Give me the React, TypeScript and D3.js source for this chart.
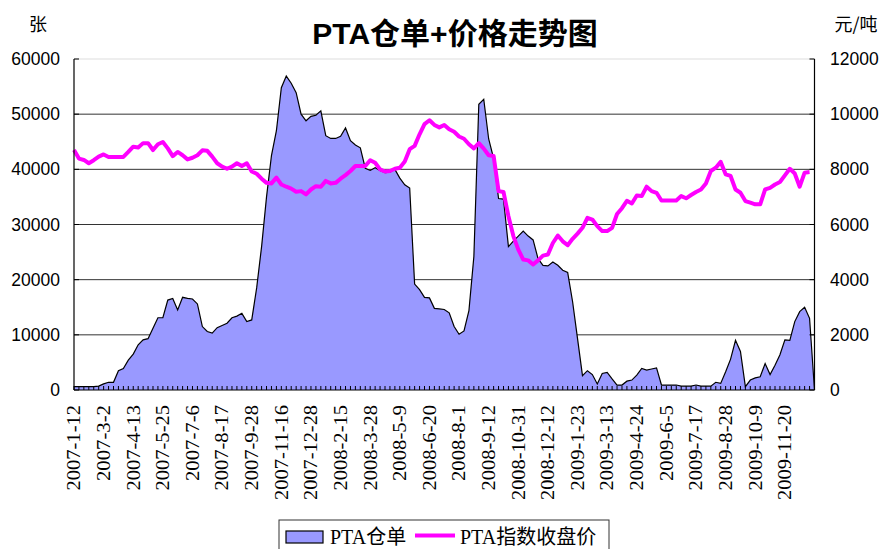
import React from "react";
import * as d3 from "d3";

// PTA 仓单 (张), weekly, left axis
const warrants: number[] = [
  600, 600, 600, 600, 600, 700, 1100, 1400, 1400, 3500,
  3900, 5400, 6500, 8200, 9100, 9300, 11200, 13100, 13100, 16300,
  16600, 14500, 16800, 16600, 16500, 15600, 11500, 10600, 10300, 11300,
  11700, 12100, 13100, 13400, 13900, 12400, 12700, 18500, 26000, 35000,
  42500, 47000, 54800, 56900, 55600, 53900, 50000, 48800, 49600, 49800,
  50600, 46100, 45600, 45600, 46000, 47500, 45200, 44400, 43900, 40200,
  39800, 40300, 39800, 39400, 39500, 40000, 38400, 37200, 36600, 19200,
  18200, 16800, 16700, 14800, 14700, 14600, 14000, 11500, 10100, 10700,
  14400, 24200, 51800, 52700, 45500, 42000, 34700, 34600, 26000, 27000,
  27900, 28800, 27900, 27200, 23800, 22600, 22500, 23200, 22600, 21700,
  21300, 16000, 9300, 2600, 3500, 2800, 1100, 3000, 3200, 2000,
  900, 900, 1600, 1800, 2700, 3900, 3600, 3800, 4000, 900,
  900, 900, 900, 700, 700, 700, 900, 700, 700, 700,
  1400, 1200, 3300, 5600, 9000, 7000, 600, 1800, 2200, 2400,
  4800, 2800, 4500, 6400, 9100, 9000, 12400, 14200, 15000, 13000,
  0,
];

// PTA 指数收盘价 (元/吨), right axis
const price: number[] = [
  8700, 8390, 8340, 8220, 8330, 8460, 8540, 8450, 8450, 8450,
  8450, 8630, 8820, 8790, 8950, 8950, 8700, 8910, 8990, 8760,
  8480, 8630, 8510, 8360, 8420, 8510, 8690, 8670, 8460, 8220,
  8100, 8020, 8100, 8220, 8120, 8220, 7920, 7840, 7660, 7510,
  7490, 7700, 7450, 7370, 7300, 7190, 7210, 7090, 7270, 7390,
  7370, 7580, 7490, 7510, 7660, 7790, 7940, 8120, 8120, 8120,
  8330, 8240, 8000, 7920, 7940, 8020, 8060, 8280, 8730, 8850,
  9270, 9640, 9780, 9610, 9520, 9610, 9450, 9360, 9190, 9110,
  8910, 8760, 8950, 8750, 8510, 8480, 7210, 7180, 6300, 5580,
  5090, 4730, 4700, 4550, 4700, 4870, 4910, 5330, 5600, 5390,
  5250, 5480, 5670, 5880, 6240, 6180, 5940, 5760, 5760, 5880,
  6380, 6590, 6860, 6760, 7050, 7030, 7370, 7210, 7150, 6870,
  6870, 6870, 6870, 7030, 6950, 7070, 7180, 7270, 7490, 7940,
  8060, 8270, 7820, 7760, 7270, 7150, 6850, 6790, 6730, 6730,
  7270, 7330, 7450, 7540, 7780, 8020, 7850, 7370, 7880, 7900,
];

// category labels shown every 6 weeks
const dateLabels: string[] = [
  "2007-1-12", "2007-3-2", "2007-4-13", "2007-5-25", "2007-7-6",
  "2007-8-17", "2007-9-28", "2007-11-16", "2007-12-28", "2008-2-15",
  "2008-3-28", "2008-5-9", "2008-6-20", "2008-8-1", "2008-9-12",
  "2008-10-31", "2008-12-12", "2009-1-23", "2009-3-13", "2009-4-24",
  "2009-6-5", "2009-7-17", "2009-8-28", "2009-10-9", "2009-11-20",
];
const labelStep = 6;

const leftTicks: number[] = [0, 10000, 20000, 30000, 40000, 50000, 60000];
const rightTicks: number[] = [0, 2000, 4000, 6000, 8000, 10000, 12000];

const W = 882;
const H = 549;
const X0 = 74;
const X1 = 814.5;
const YT = 59;
const YB = 390;

export default function App() {
  const n = warrants.length;
  const x = d3.scaleLinear().domain([0, n - 1]).range([X0, X1]);
  const yL = d3.scaleLinear().domain([0, 60000]).range([YB, YT]);
  const yR = d3.scaleLinear().domain([0, 12000]).range([YB, YT]);

  const areaGen = d3
    .area<number>()
    .x((_, i) => x(i))
    .y0(yL(0))
    .y1((d) => yL(d));
  const lineTop = d3
    .line<number>()
    .x((_, i) => x(i))
    .y((d) => yL(d));
  const priceLine = d3
    .line<number>()
    .x((_, i) => x(i))
    .y((d) => yR(d));

  const sans = "'Liberation Sans', Arial, 'Noto Sans CJK SC', sans-serif";
  const serif = "'Liberation Serif', 'Noto Sans CJK SC', serif";
  const cjk = "'Noto Sans CJK SC', sans-serif";

  return (
    <div style={{ position: "absolute", left: 0, top: 0 }}>
      <svg width={W} height={H} style={{ display: "block", background: "#fff" }}>
        <rect x={0} y={0} width={W} height={H} fill="#fff" />
        {/* title */}
        <text
          x={455}
          y={44}
          textAnchor="middle"
          fontFamily={sans}
          fontWeight="bold"
          fontSize={30}
          fill="#000"
        >
          PTA仓单+价格走势图
        </text>
        <text x={38} y={31} textAnchor="middle" fontFamily={cjk} fontSize={18} fill="#000">
          张
        </text>
        <text x={856} y={31} textAnchor="middle" fontFamily={cjk} fontSize={18} fill="#000">
          元/吨
        </text>

        {/* gridlines */}
        {leftTicks.map((t) => (
          <line
            key={"g" + t}
            x1={X0}
            x2={X1}
            y1={yL(t)}
            y2={yL(t)}
            stroke={t === 60000 ? "#dddddd" : t === 0 ? "none" : "#333"}
            strokeWidth={1}
          />
        ))}

        {/* area */}
        <path d={areaGen(warrants) || ""} fill="#9999ff" stroke="none" />
        <path d={lineTop(warrants) || ""} fill="none" stroke="#000" strokeWidth={1.2} />

        {/* category ticks */}
        {warrants.map((_, i) => (
          <line
            key={"xt" + i}
            x1={x(i)}
            x2={x(i)}
            y1={YB - 4}
            y2={YB}
            stroke="#000"
            strokeWidth={1}
          />
        ))}

        {/* price line */}
        <path
          d={priceLine(price) || ""}
          fill="none"
          stroke="#ff00ff"
          strokeWidth={4}
          strokeLinejoin="round"
        />

        {/* axes */}
        <line x1={X0} x2={X0} y1={YT} y2={YB} stroke="#000" strokeWidth={1.2} />
        <line x1={X1} x2={X1} y1={YT} y2={YB} stroke="#000" strokeWidth={1.2} />
        <line x1={X0} x2={X1} y1={YB} y2={YB} stroke="#000" strokeWidth={1.2} />
        {leftTicks.map((t) => (
          <line key={"lt" + t} x1={X0} x2={X0 + 5} y1={yL(t)} y2={yL(t)} stroke="#000" />
        ))}
        {rightTicks.map((t) => (
          <line key={"rt" + t} x1={X1 - 5} x2={X1} y1={yR(t)} y2={yR(t)} stroke="#000" />
        ))}

        {/* left tick labels */}
        {leftTicks.map((t) => (
          <text
            key={"ll" + t}
            x={60}
            y={yL(t)}
            dy="0.35em"
            textAnchor="end"
            fontFamily={sans}
            fontSize={17.5}
            fill="#000"
          >
            {t}
          </text>
        ))}
        {/* right tick labels */}
        {rightTicks.map((t) => (
          <text
            key={"rl" + t}
            x={830}
            y={yR(t)}
            dy="0.35em"
            textAnchor="start"
            fontFamily={sans}
            fontSize={17.5}
            fill="#000"
          >
            {t}
          </text>
        ))}

        {/* x labels */}
        {dateLabels.map((lab, k) => (
          <text
            key={"xl" + k}
            transform={`translate(${x(k * labelStep)},405) rotate(-90)`}
            dy="0.35em"
            textAnchor="end"
            fontFamily={serif}
            fontSize={18}
            textLength={lab.length * 9.5}
            lengthAdjust="spacingAndGlyphs"
            fill="#000"
          >
            {lab}
          </text>
        ))}

        {/* legend */}
        <rect x={279} y={520} width={330} height={40} fill="#fff" stroke="#333" strokeWidth={1} />
        <rect x={286} y={531} width={37} height={12} fill="#9999ff" stroke="#000" strokeWidth={1.2} />
        <text x={330} y={544} fontFamily={serif} fontSize={20} fill="#000">
          PTA仓单
        </text>
        <line x1={415} x2={455} y1={535.5} y2={535.5} stroke="#ff00ff" strokeWidth={4} />
        <text x={460} y={544} fontFamily={serif} fontSize={20} fill="#000">
          PTA指数收盘价
        </text>
      </svg>
    </div>
  );
}
